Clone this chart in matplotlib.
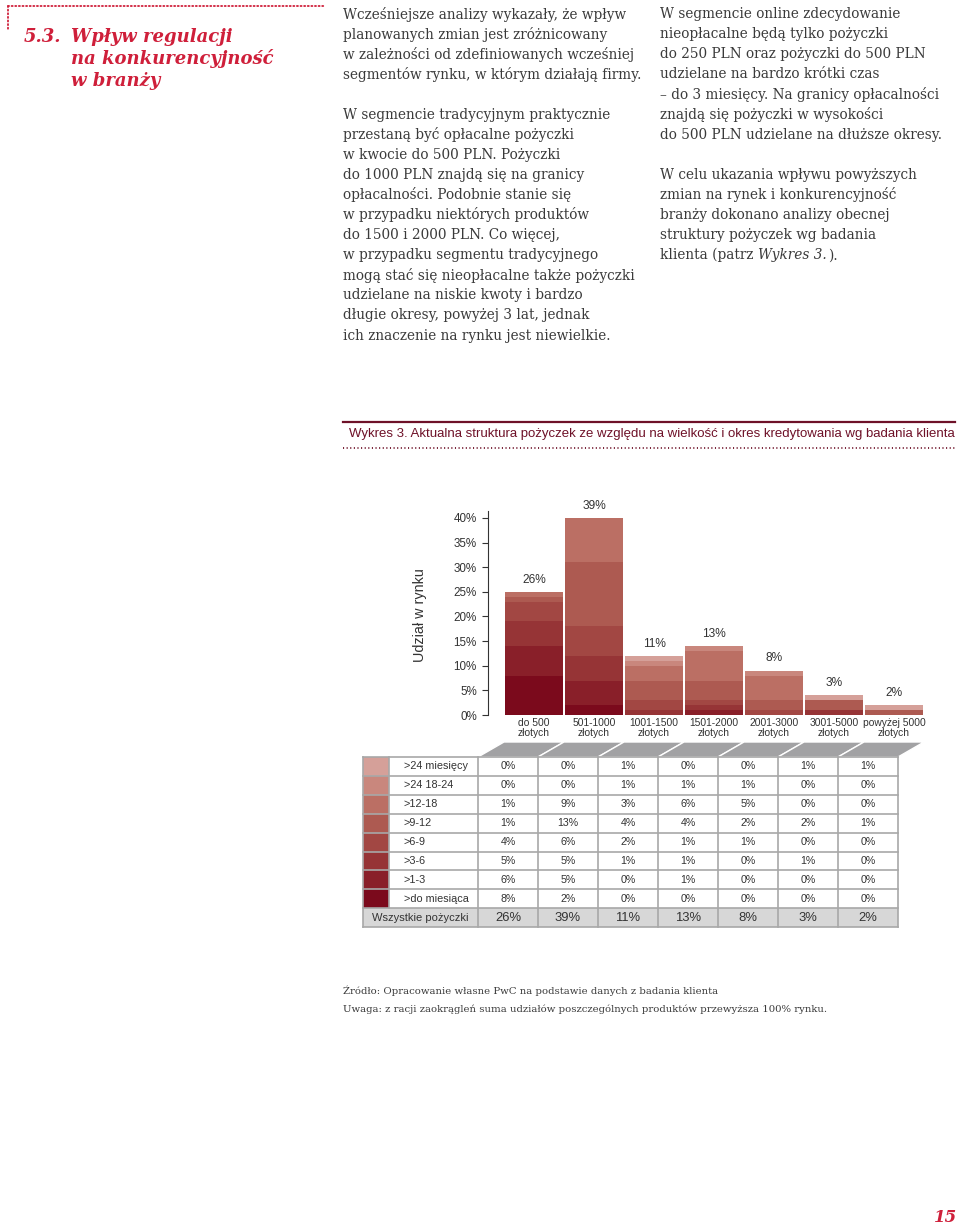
import matplotlib
matplotlib.use("Agg")
import matplotlib.pyplot as plt
from matplotlib.patches import Rectangle, Polygon

# ---------------- data ----------------
categories = ["do 500\nzłotych", "501-1000\nzłotych", "1001-1500\nzłotych",
              "1501-2000\nzłotych", "2001-3000\nzłotych", "3001-5000\nzłotych",
              "powyżej 5000\nzłotych"]
periods = [">24 miesięcy", ">24 18-24", ">12-18", ">9-12", ">6-9", ">3-6", ">1-3", ">do miesiąca"]
m24 = [0, 0, 1, 0, 0, 1, 1]
m18_24 = [0, 0, 1, 1, 1, 0, 0]
m12_18 = [1, 9, 3, 6, 5, 0, 0]
m9_12 = [1, 13, 4, 4, 2, 2, 1]
m6_9 = [4, 6, 2, 1, 1, 0, 0]
m3_6 = [5, 5, 1, 1, 0, 1, 0]
m1_3 = [6, 5, 0, 1, 0, 0, 0]
m0_1 = [8, 2, 0, 0, 0, 0, 0]
totals = [26, 39, 11, 13, 8, 3, 2]
total_label = "Wszystkie pożyczki"
yticks = [0, 5, 10, 15, 20, 25, 30, 35, 40]

# colours, ordered like `periods` (top -> bottom)
period_colors = ["#d5a099", "#c9877d", "#bb6f64", "#ad5a51", "#a24743",
                 "#963436", "#891f29", "#7b0a1c"]

series = [m24, m18_24, m12_18, m9_12, m6_9, m3_6, m1_3, m0_1]

W, H = 960, 1226
fig = plt.figure(figsize=(9.6, 12.26), dpi=100)
pg = fig.add_axes([0, 0, 1, 1])
pg.set_xlim(0, W)
pg.set_ylim(H, 0)
pg.axis("off")


def box(x0, y0, x1, y1):
    return [x0 / W, 1 - y1 / H, (x1 - x0) / W, (y1 - y0) / H]


RED = "#cf1f3a"
TXT = "#3a3a3a"
MAROON = "#6e1128"
SANS = "Liberation Sans"
SERIF = "DejaVu Serif"

# ---------------- header ----------------
pg.plot([8, 325], [6, 6], color=RED, lw=1.3, ls=(0, (0.6, 1.4)), dash_capstyle="round")
pg.plot([8, 8], [6, 29], color=RED, lw=1.3, ls=(0, (0.6, 1.4)), dash_capstyle="round")
tkw = dict(family=SERIF, weight="bold", style="italic", color=RED, fontsize=13, va="center")
pg.text(24, 37, "5.3.", **tkw)
pg.text(71, 37, "Wpływ regulacji", **tkw)
pg.text(71, 59, "na konkurencyjność", **tkw)
pg.text(71, 81, "w branży", **tkw)

col1 = ["Wcześniejsze analizy wykazały, że wpływ",
        "planowanych zmian jest zróżnicowany",
        "w zależności od zdefiniowanych wcześniej",
        "segmentów rynku, w którym działają firmy.",
        "",
        "W segmencie tradycyjnym praktycznie",
        "przestaną być opłacalne pożyczki",
        "w kwocie do 500 PLN. Pożyczki",
        "do 1000 PLN znajdą się na granicy",
        "opłacalności. Podobnie stanie się",
        "w przypadku niektórych produktów",
        "do 1500 i 2000 PLN. Co więcej,",
        "w przypadku segmentu tradycyjnego",
        "mogą stać się nieopłacalne także pożyczki",
        "udzielane na niskie kwoty i bardzo",
        "długie okresy, powyżej 3 lat, jednak",
        "ich znaczenie na rynku jest niewielkie."]
col2 = ["W segmencie online zdecydowanie",
        "nieopłacalne będą tylko pożyczki",
        "do 250 PLN oraz pożyczki do 500 PLN",
        "udzielane na bardzo krótki czas",
        "– do 3 miesięcy. Na granicy opłacalności",
        "znajdą się pożyczki w wysokości",
        "do 500 PLN udzielane na dłuższe okresy.",
        "",
        "W celu ukazania wpływu powyższych",
        "zmian na rynek i konkurencyjność",
        "branży dokonano analizy obecnej",
        "struktury pożyczek wg badania"]
bkw = dict(family=SERIF, color=TXT, fontsize=9.8, va="center")
LS = 20.1
for i, line in enumerate(col1):
    if line:
        pg.text(343, 14 + i * LS, line, **bkw)
for i, line in enumerate(col2):
    if line:
        pg.text(660, 14 + i * LS, line, **bkw)
ylast = 14 + len(col2) * LS
t1 = pg.text(660, ylast, "klienta (patrz ", **bkw)
fig.canvas.draw()
r = fig.canvas.get_renderer()
bb = t1.get_window_extent(r)
t2 = pg.text(bb.x1, ylast, "Wykres 3.", style="italic", **bkw)
bb2 = t2.get_window_extent(r)
pg.text(bb2.x1 + 1, ylast, ").", **bkw)

# ---------------- chart caption ----------------
pg.plot([343, 955], [422, 422], color=MAROON, lw=1.6)
pg.plot([343, 955], [448, 448], color=MAROON, lw=1.3, ls=(0, (0.6, 1.4)))
pg.text(349, 434, "Wykres 3. Aktualna struktura pożyczek ze względu na wielkość i okres kredytowania wg badania klienta",
        family=SANS, fontsize=9.5, color=MAROON, va="center")

# ---------------- bar chart ----------------
ax = fig.add_axes(box(488, 511, 924, 715))
ax.set_facecolor("none")
ax.set_ylim(0, 41.42)
ax.set_xlim(-0.5 - 16 / 60, 6.5)
xs = list(range(len(categories)))
bottom = [0] * len(categories)
for vals, col in zip(series[::-1], period_colors[::-1]):
    ax.bar(xs, vals, width=1 - 1.2 / 60, bottom=bottom, color=col, edgecolor="none")
    bottom = [b + v for b, v in zip(bottom, vals)]
for i, (h, t) in enumerate(zip(bottom, totals)):
    ax.annotate(f"{t}%", (i, h), xytext=(0, 8.8), textcoords="offset points",
                ha="center", va="center", fontsize=8.6, family=SANS, color="#333333")
for s in ["top", "right", "bottom"]:
    ax.spines[s].set_visible(False)
ax.spines["left"].set_color("#333333")
ax.spines["left"].set_linewidth(0.8)
ax.set_yticks(yticks)
ax.set_yticklabels([f"{v}%" for v in yticks], family=SANS)
ax.tick_params(axis="y", length=4, width=0.8, color="#333333", pad=4,
               labelsize=8.4, labelcolor="#333333")
ax.set_xticks(xs)
ax.set_xticklabels(categories, family=SANS, linespacing=0.95)
ax.tick_params(axis="x", length=0, pad=2.5, labelsize=7.4, labelcolor="#333333")
pg.text(420, 615, "Udział w rynku", rotation=90, family=SANS, fontsize=10.4,
        color="#333333", ha="center", va="center")

# ---------------- table ----------------
ROW_TOP, RH = 757, 18.9
X_SW, X_LB, X_V0, CW = 363, 389, 478, 60
ncol = len(categories)
X_END = X_V0 + CW * ncol
GRID = "#a8a8a8"

# slanted gray header band
for j in range(ncol):
    xl = X_V0 + j * CW
    pg.add_patch(Polygon([(xl, ROW_TOP), (xl + CW, ROW_TOP), (xl + CW + 26, 742), (xl + 26, 742)],
                         closed=True, facecolor="#a2a2a4", edgecolor="white", lw=1.0))

nrows = len(periods) + 1
tot_y = ROW_TOP + len(periods) * RH
pg.add_patch(Rectangle((X_SW, tot_y), X_END - X_SW, RH, facecolor="#d7d7d7", edgecolor="none"))
for r_i, (lab, vals, col) in enumerate(zip(periods, series, period_colors)):
    y0 = ROW_TOP + r_i * RH
    pg.add_patch(Rectangle((X_SW, y0), X_LB - X_SW, RH, facecolor=col, edgecolor="none"))
    pg.text(404, y0 + RH / 2, lab, family=SANS, fontsize=7.8, color="#333333", va="center")
    for j, v in enumerate(vals):
        pg.text(X_V0 + j * CW + CW / 2, y0 + RH / 2, f"{v}%", family=SANS, fontsize=7.7,
                color="#333333", ha="center", va="center")
pg.text((X_SW + X_V0) / 2, tot_y + RH / 2, total_label, family=SANS, fontsize=8.0,
        color="#333333", ha="center", va="center")
for j, t in enumerate(totals):
    pg.text(X_V0 + j * CW + CW / 2, tot_y + RH / 2, f"{t}%", family=SANS, fontsize=9.4,
            color="#333333", ha="center", va="center")
# grid
for k in range(nrows + 1):
    y = ROW_TOP + k * RH
    pg.plot([X_SW, X_END], [y, y], color=GRID, lw=1.2, solid_capstyle="projecting")
pg.plot([X_SW, X_SW], [ROW_TOP, ROW_TOP + nrows * RH], color=GRID, lw=1.2)
pg.plot([X_LB, X_LB], [ROW_TOP, tot_y], color=GRID, lw=1.2)
for j in range(ncol + 1):
    x = X_V0 + j * CW
    pg.plot([x, x], [ROW_TOP, ROW_TOP + nrows * RH], color=GRID, lw=1.2)

# ---------------- footer ----------------
fkw = dict(family=SERIF, color=TXT, fontsize=7.25, va="center")
pg.text(343, 991, "Źródło: Opracowanie własne PwC na podstawie danych z badania klienta", **fkw)
pg.text(343, 1009, "Uwaga: z racji zaokrągleń suma udziałów poszczególnych produktów przewyższa 100% rynku.", **fkw)
pg.text(946, 1217, "15", family=SERIF, weight="bold", style="italic", color=RED, fontsize=12,
        ha="center", va="center")

fig.savefig("out.png", dpi=100, facecolor="white")
